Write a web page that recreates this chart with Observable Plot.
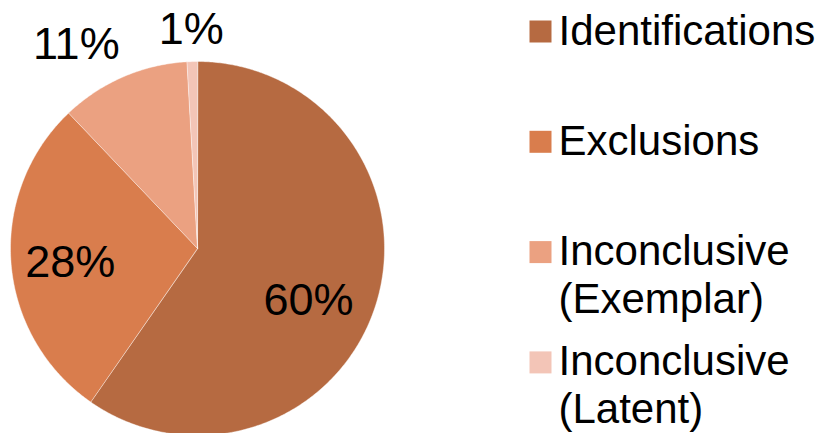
<!DOCTYPE html>
<html><head><meta charset="utf-8">
<script src="https://cdn.jsdelivr.net/npm/d3@7"></script>
<script src="https://cdn.jsdelivr.net/npm/@observablehq/plot@0.6"></script>
<style>html,body{margin:0;padding:0;background:#fff} svg{display:block}</style>
</head><body><div id="chart"></div>
<script>
// ---- data ----
const categories = ["Identifications", "Exclusions", "Inconclusive (Exemplar)", "Inconclusive (Latent)"];
const shares = [59.6, 28.2, 11.2, 0.9];
const pctLabels = ["60%", "28%", "11%", "1%"];
const legendLabels = ["Identifications", "Exclusions", "Inconclusive\n(Exemplar)", "Inconclusive\n(Latent)"];
const colors = ["#B66A41", "#D97D4D", "#EBA181", "#F3C5B7"];

// ---- layout ----
const W = 825, H = 433, cx = 197, cy = 248, R = 187;
const font = "'Liberation Sans', Arial, Helvetica, sans-serif";

const total = d3.sum(shares);
let acc = 0;
const slices = categories.map((c, i) => {
  const a0 = acc / total * 2 * Math.PI; acc += shares[i];
  const a1 = acc / total * 2 * Math.PI;
  return {c, i, a0, a1, mid: (a0 + a1) / 2};
});
const poly = [];
for (const s of slices) {
  poly.push({c: s.c, x: 0, y: 0});
  const n = Math.max(2, Math.ceil((s.a1 - s.a0) / 0.01));
  for (let k = 0; k <= n; k++) {
    const a = s.a0 + (s.a1 - s.a0) * k / n;
    poly.push({c: s.c, x: Math.sin(a), y: Math.cos(a)});
  }
}
// label placement: radius (in units of R) and pixel nudges
const labelCfg = [
  {r: 0.65, dx: -5, dy: 16},
  {r: 0.65, dx: -6, dy: 5},
  {r: 1.2, dx: -32, dy: 2},
  {r: 1.18, dx: 0, dy: 2}
];
const labelMarks = slices.map((s, i) => Plot.text([{
    x: labelCfg[i].r * Math.sin(s.mid), y: labelCfg[i].r * Math.cos(s.mid), t: pctLabels[i]}], {
    x: "x", y: "y", text: "t", fontSize: 45, fill: "black",
    dx: labelCfg[i].dx, dy: labelCfg[i].dy, textAnchor: "middle", lineAnchor: "middle"
  }));

const legendTop = 20, legendStep = 110.3, swatch = 22, swatchX = 529, textX = 558;
const legendFont = 42, legendLH = 1.13;
const legendMarks = categories.flatMap((c, i) => [
  Plot.dot([0], {frameAnchor: "top-left", dx: swatchX + swatch / 2, dy: legendTop + i * legendStep + swatch / 2,
    r: swatch / Math.sqrt(Math.PI), symbol: "square", fill: colors[i], stroke: "none"}),
  Plot.text([legendLabels[i]], {frameAnchor: "top-left", dx: textX,
    dy: legendTop + i * legendStep + 24 - 0.71 * legendLH * legendFont,
    text: d => d, fontSize: legendFont, fill: "black", textAnchor: "start", lineAnchor: "top", lineHeight: legendLH})
]);

const chart = Plot.plot({
  width: W, height: H, margin: 0,
  x: {domain: [-1, 1], range: [cx - R, cx + R], axis: null},
  y: {domain: [-1, 1], range: [cy + R, cy - R], axis: null},
  color: {domain: categories, range: colors},
  style: {fontFamily: font, background: "white", overflow: "hidden"},
  marks: [
    Plot.line(poly, {x: "x", y: "y", z: "c", fill: "c", stroke: "white", strokeWidth: 0.6, strokeOpacity: 0.7, curve: "linear-closed"}),
    ...labelMarks,
    ...legendMarks
  ]
});
document.getElementById("chart").appendChild(chart);
</script>
</body></html>
